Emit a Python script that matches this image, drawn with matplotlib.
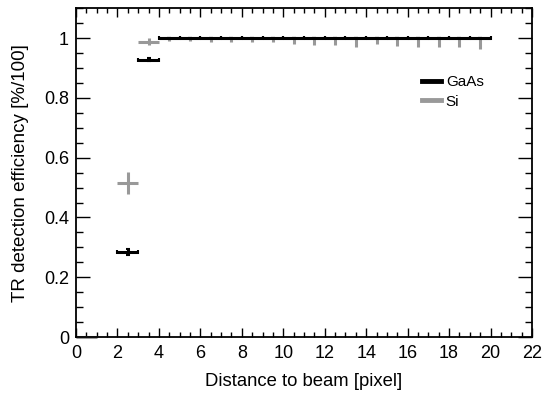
import matplotlib
matplotlib.use("Agg")
import matplotlib.pyplot as plt
from matplotlib.ticker import MultipleLocator
from matplotlib.lines import Line2D

plt.rcParams['font.family'] = ['Liberation Sans', 'DejaVu Sans']

# GaAs bins (centres, values, errors)
gaas_x = [2.5, 3.5] + [4.5 + i for i in range(16)]
gaas_y = [0.286, 0.928] + [1.0] * 16
gaas_err = [0.010, 0.006] + [0.0] * 16

# Si bins
si_x = [0.5, 2.5, 3.5] + [4.5 + i for i in range(16)]
si_y = [0.0, 0.515, 0.988] + [1.0] * 16
si_err_lo = [0.0, 0.036, 0.011] + [0.008, 0.010, 0.013, 0.013, 0.014, 0.014, 0.018, 0.022,
                                    0.022, 0.030, 0.020, 0.025, 0.030, 0.028, 0.030, 0.037]
si_err_hi = [0.0, 0.036, 0.011] + [0.0] * 16
bin_half = 0.5

fig = plt.figure(figsize=(5.42, 3.95), dpi=100)
ax = fig.add_axes([0.1402, 0.1468, 0.8413, 0.8322])

grey = '#999999'
ax.errorbar(si_x, si_y, xerr=bin_half, yerr=[si_err_lo, si_err_hi], fmt='none',
            ecolor=grey, elinewidth=2.2, capsize=0, zorder=2, clip_on=False)
ax.errorbar(gaas_x, gaas_y, xerr=bin_half, yerr=gaas_err, fmt='none',
            ecolor='black', elinewidth=2.2, capsize=1.3, capthick=1.5, zorder=3)

ax.set_xlim(0, 22)
ax.set_ylim(0, 1.1)
ax.xaxis.set_major_locator(MultipleLocator(2))
ax.xaxis.set_minor_locator(MultipleLocator(0.5))
ax.yaxis.set_minor_locator(MultipleLocator(0.05))
ax.set_yticks([0, 0.2, 0.4, 0.6, 0.8, 1.0])
ax.set_yticklabels(['0', '0.2', '0.4', '0.6', '0.8', '1'])

ax.tick_params(axis='both', which='both', direction='in', top=True, right=True,
               labelsize=13, colors='black', width=1.0)
ax.tick_params(axis='x', which='major', length=6.5, pad=6)
ax.tick_params(axis='x', which='minor', length=3.5)
ax.tick_params(axis='y', which='major', length=10, pad=5)
ax.tick_params(axis='y', which='minor', length=5)
for s in ax.spines.values():
    s.set_linewidth(1.3)

ax.set_xlabel('Distance to beam [pixel]', fontsize=13.3, labelpad=8)
ax.set_ylabel('TR detection efficiency [%/100]', fontsize=13.5, labelpad=11)

handles = [Line2D([0], [0], color='black', lw=3.5), Line2D([0], [0], color=grey, lw=3.5)]
ax.legend(handles, ['GaAs', 'Si'], loc='center left', bbox_to_anchor=(0.759, 0.745),
          frameon=False, fontsize=11, handlelength=1.25, handletextpad=0.3,
          labelspacing=0.35, borderpad=0, borderaxespad=0)

fig.savefig('out.png', dpi=100)
